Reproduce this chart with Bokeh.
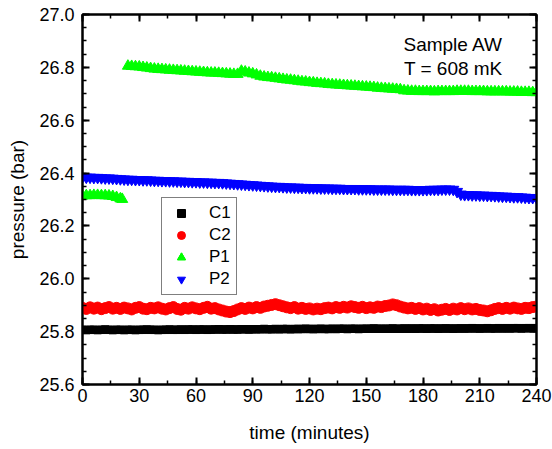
from bokeh.plotting import figure
from bokeh.models import (Range1d, LinearAxis, FixedTicker, PrintfTickFormatter,
                          CustomJSTickFormatter, Legend, LegendItem, Label)
from bokeh.embed import file_html
from bokeh.resources import INLINE

# ---------------- data ----------------
time = list(range(0, 241, 2))  # minutes

c1 = [25.807, 25.806, 25.807, 25.807, 25.806, 25.807, 25.808, 25.807, 25.806, 25.807, 25.807,
      25.806, 25.807, 25.807, 25.806, 25.807, 25.807, 25.808, 25.807, 25.807, 25.806,
      25.807, 25.807, 25.808, 25.807, 25.807, 25.808, 25.807, 25.808, 25.808, 25.807,
      25.808, 25.808, 25.807, 25.808, 25.808, 25.809, 25.808, 25.808, 25.809, 25.808,
      25.808, 25.809, 25.809, 25.808, 25.809, 25.809, 25.809, 25.810, 25.809, 25.809,
      25.810, 25.809, 25.810, 25.810, 25.809, 25.810, 25.810, 25.810, 25.811, 25.810,
      25.810, 25.810, 25.811, 25.810, 25.810, 25.811, 25.810, 25.811, 25.811, 25.810,
      25.811, 25.811, 25.810, 25.811, 25.811, 25.811, 25.812, 25.811, 25.811, 25.811,
      25.811, 25.812, 25.811, 25.811, 25.812, 25.811, 25.812, 25.811, 25.812, 25.812,
      25.811, 25.812, 25.812, 25.811, 25.812, 25.812, 25.812, 25.811, 25.812, 25.812,
      25.812, 25.812, 25.813, 25.812, 25.812, 25.812, 25.813, 25.812, 25.812, 25.813,
      25.812, 25.813, 25.812, 25.813, 25.813, 25.812, 25.813, 25.813, 25.813, 25.813]

c2 = [25.890, 25.886, 25.892, 25.887, 25.891, 25.885, 25.889, 25.893, 25.887, 25.890, 25.886,
      25.891, 25.888, 25.884, 25.890, 25.893, 25.887, 25.885, 25.890, 25.888, 25.892,
      25.887, 25.884, 25.889, 25.893, 25.886, 25.883, 25.890, 25.887, 25.892, 25.888,
      25.885, 25.890, 25.894, 25.887, 25.889, 25.884, 25.880, 25.876, 25.874, 25.878,
      25.884, 25.889, 25.886, 25.891, 25.888, 25.893, 25.890, 25.895, 25.898, 25.901,
      25.904, 25.900, 25.896, 25.892, 25.889, 25.893, 25.887, 25.890, 25.886, 25.888,
      25.884, 25.887, 25.885, 25.889, 25.891, 25.888, 25.893, 25.890, 25.894, 25.891,
      25.896, 25.893, 25.890, 25.894, 25.889, 25.892, 25.890, 25.895, 25.893, 25.897,
      25.899, 25.903, 25.900, 25.895, 25.891, 25.888, 25.890, 25.886, 25.889, 25.884,
      25.887, 25.882, 25.885, 25.880, 25.883, 25.886, 25.882, 25.887, 25.884, 25.889,
      25.885, 25.888, 25.884, 25.886, 25.882, 25.880, 25.877, 25.881, 25.886, 25.889,
      25.886, 25.890, 25.887, 25.891, 25.888, 25.886, 25.890, 25.889, 25.893, 25.895]

p2 = [26.385, 26.384, 26.384, 26.383, 26.383, 26.382, 26.381, 26.381, 26.380, 26.379, 26.378,
      26.377, 26.376, 26.376, 26.375, 26.375, 26.374, 26.374, 26.373, 26.372, 26.372,
      26.371, 26.371, 26.370, 26.370, 26.369, 26.369, 26.368, 26.368, 26.367, 26.367,
      26.366, 26.366, 26.365, 26.365, 26.364, 26.364, 26.363, 26.362, 26.361, 26.360,
      26.359, 26.358, 26.357, 26.356, 26.355, 26.354, 26.353, 26.352, 26.351, 26.350,
      26.349, 26.349, 26.348, 26.347, 26.347, 26.346, 26.346, 26.345, 26.345, 26.344,
      26.344, 26.344, 26.343, 26.343, 26.343, 26.342, 26.342, 26.342, 26.341, 26.341,
      26.341, 26.341, 26.340, 26.340, 26.340, 26.340, 26.339, 26.339, 26.339, 26.339,
      26.339, 26.338, 26.338, 26.338, 26.338, 26.338, 26.337, 26.337, 26.337, 26.337,
      26.337, 26.338, 26.338, 26.338, 26.339, 26.339, 26.339, 26.338, 26.330, 26.320,
      26.318, 26.318, 26.317, 26.317, 26.316, 26.316, 26.315, 26.315, 26.314, 26.313,
      26.312, 26.312, 26.311, 26.310, 26.310, 26.309, 26.308, 26.307, 26.307, 26.306]

# P1, first run (before refill)
time_p1a = [0, 2, 4, 6, 8, 10, 12, 14, 16, 18, 20, 21]
p1a = [26.314, 26.315, 26.315, 26.316, 26.316, 26.315, 26.315, 26.314, 26.312, 26.308, 26.303, 26.301]

# P1, second run
time_p1b = list(range(24, 241, 2))
p1b = [26.805, 26.804, 26.803, 26.802, 26.800, 26.798, 26.796, 26.794, 26.793, 26.792,
       26.791, 26.790, 26.789, 26.788, 26.787, 26.786, 26.785, 26.784, 26.783, 26.782,
       26.781, 26.780, 26.779, 26.779, 26.778, 26.777, 26.776, 26.775, 26.774, 26.774,
       26.786, 26.783, 26.779, 26.776, 26.772, 26.767, 26.764, 26.762, 26.761, 26.759,
       26.757, 26.755, 26.753, 26.752, 26.750, 26.748, 26.746, 26.745, 26.743, 26.742,
       26.740, 26.739, 26.738, 26.736, 26.735, 26.734, 26.733, 26.732, 26.731, 26.730,
       26.729, 26.728, 26.727, 26.726, 26.725, 26.724, 26.722, 26.721, 26.720, 26.719,
       26.718, 26.717, 26.716, 26.712, 26.711, 26.710, 26.710, 26.709, 26.709, 26.709,
       26.709, 26.708, 26.709, 26.709, 26.709, 26.709, 26.709, 26.710, 26.710, 26.710,
       26.710, 26.709, 26.709, 26.709, 26.709, 26.708, 26.708, 26.708, 26.708, 26.708,
       26.708, 26.707, 26.707, 26.707, 26.706, 26.706, 26.706, 26.705, 26.705]

x_major = [0, 30, 60, 90, 120, 150, 180, 210, 240]
x_minor = list(range(0, 241, 15))
y_major = [25.6, 25.8, 26.0, 26.2, 26.4, 26.6, 26.8, 27.0]
y_minor = [25.6 + 0.05 * i for i in range(29)]

FONT = "Liberation Sans"

# ---------------- figure ----------------
p = figure(width=552, height=449, output_backend="svg", toolbar_location=None,
           x_range=Range1d(0, 240), y_range=Range1d(25.6, 27.0),
           min_border_left=82, min_border_right=16, min_border_top=14, min_border_bottom=65,
           x_axis_label="time (minutes)", y_axis_label="pressure (bar)")
p.xgrid.visible = False
p.ygrid.visible = False
p.outline_line_color = "black"
p.outline_line_width = 2
p.background_fill_color = "white"
p.border_fill_color = "white"

xt = FixedTicker(ticks=x_major, minor_ticks=x_minor)
yt = FixedTicker(ticks=y_major, minor_ticks=y_minor)


def style(ax, show_labels):
    ax.axis_line_width = 2
    ax.axis_line_color = "black"
    ax.major_tick_in = 7
    ax.major_tick_out = 0
    ax.minor_tick_in = 4
    ax.minor_tick_out = 0
    ax.major_tick_line_width = 2
    ax.minor_tick_line_width = 1.5
    ax.major_tick_line_color = "black"
    ax.minor_tick_line_color = "black"
    if show_labels:
        ax.major_label_text_font = FONT
        ax.major_label_text_font_size = "18px"
        ax.major_label_text_color = "black"
        ax.axis_label_text_font = FONT
        ax.axis_label_text_font_size = "19px"
        ax.axis_label_text_font_style = "normal"
        ax.axis_label_text_color = "black"
    else:
        ax.formatter = CustomJSTickFormatter(code="return '';")
        ax.major_label_text_font_size = "1px"
        ax.major_label_standoff = 0


xa = p.xaxis[0]
xa.ticker = xt
style(xa, True)
xa.major_label_standoff = 4
xa.axis_label_standoff = 17

ya = p.yaxis[0]
ya.ticker = yt
ya.formatter = PrintfTickFormatter(format="%.1f")
style(ya, True)
ya.major_label_standoff = 8
ya.axis_label_standoff = 8

top = LinearAxis(ticker=xt)
style(top, False)
p.add_layout(top, "above")
right = LinearAxis(ticker=yt)
style(right, False)
p.add_layout(right, "right")

# ---------------- data marks ----------------
r_c1 = p.scatter(time, c1, marker="square", size=7.5, fill_color="black", line_color="black")
r_c2 = p.scatter(time, c2, marker="circle", size=11, fill_color="#ff0000", line_color="#ff0000")
r_p1a = p.scatter(time_p1a, p1a, marker="triangle", size=11, fill_color="#00ff00", line_color="#00ff00")
r_p1b = p.scatter(time_p1b, p1b, marker="triangle", size=11, fill_color="#00ff00", line_color="#00ff00")
r_p2 = p.scatter(time, p2, marker="inverted_triangle", size=11, fill_color="#0000ff", line_color="#0000ff")

legend = Legend(items=[LegendItem(label="C1", renderers=[r_c1]),
                       LegendItem(label="C2", renderers=[r_c2]),
                       LegendItem(label="P1", renderers=[r_p1a, r_p1b]),
                       LegendItem(label="P2", renderers=[r_p2])],
                location=(79, 89))
legend.border_line_color = "black"
legend.border_line_width = 1
legend.background_fill_color = "white"
legend.background_fill_alpha = 1
legend.padding = 5
legend.spacing = 2
legend.margin = 0
legend.glyph_width = 28
legend.glyph_height = 20
legend.label_height = 20
legend.label_standoff = 14
legend.label_text_font = FONT
legend.label_text_font_size = "17px"
legend.label_text_color = "black"
p.add_layout(legend)

p.add_layout(Label(x=196, y=26.887, text="Sample AW", text_align="center",
                   text_baseline="alphabetic", text_font=FONT, text_font_size="19px",
                   text_color="black"))
p.add_layout(Label(x=196, y=26.797, text="T = 608 mK", text_align="center",
                   text_baseline="alphabetic", text_font=FONT, text_font_size="19px",
                   text_color="black"))

open("out.html", "w").write(file_html(p, INLINE))
